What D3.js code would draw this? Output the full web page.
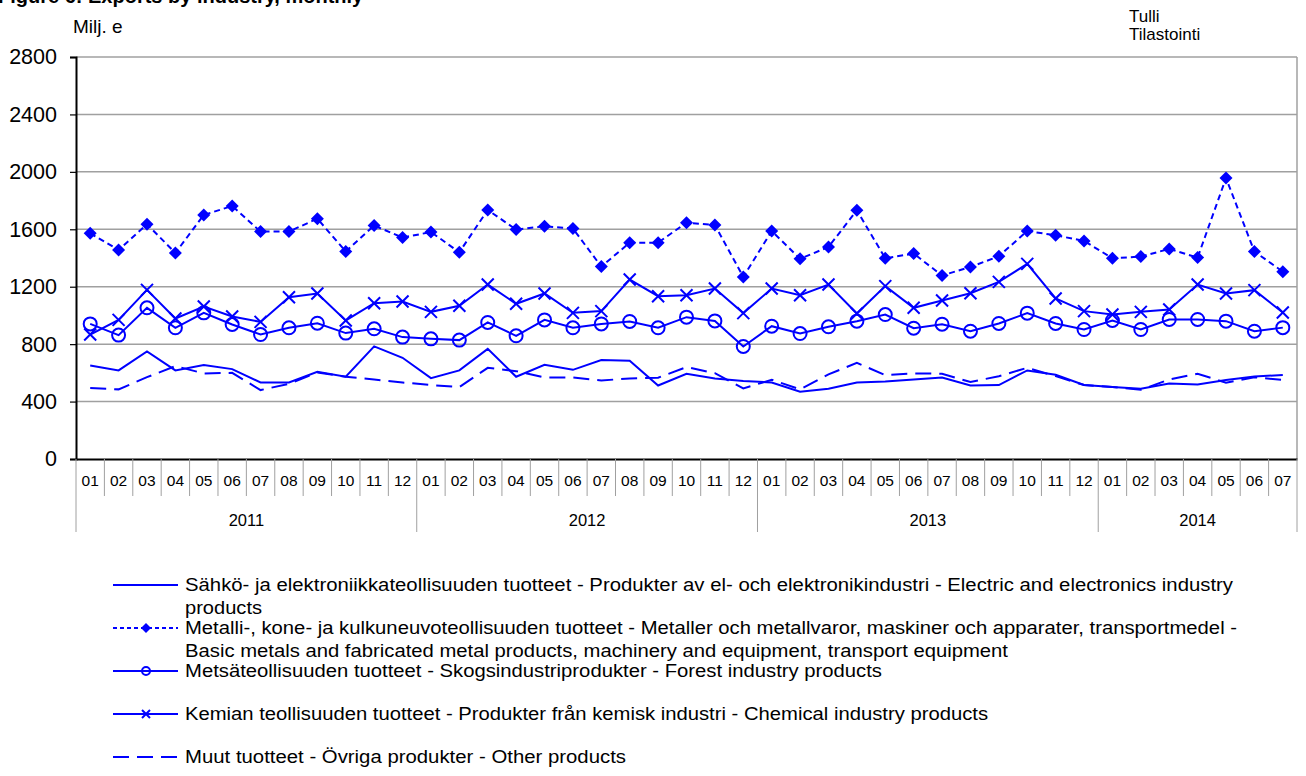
<!DOCTYPE html>
<html><head><meta charset="utf-8">
<script src="https://cdn.jsdelivr.net/npm/d3@7"></script>
<style>body{margin:0;background:#fff;} svg{display:block;font-family:Arial,"Liberation Sans",sans-serif;}</style>
</head><body><svg id="c" width="1306" height="776"></svg>
<script>
const years = ["2011","2012","2013","2014"];
const monthsPerYear = [12,12,12,7];
const monthLabels = ["01","02","03","04","05","06","07","08","09","10","11","12"];
const yTicks = [0,400,800,1200,1600,2000,2400,2800];

const electric = [652,617,749,617,654,626,533,533,608,573,784,705, 563,617,767,573,656,621,689,684,512,594,561,543, 533,468,489,533,540,554,568,512,515,617,587,515, 501,489,526,519,550,575,585];
const metals   = [1572,1456,1635,1435,1700,1762,1584,1584,1674,1445,1626,1542, 1581,1440,1735,1598,1621,1605,1340,1507,1507,1646,1630,1268, 1588,1394,1477,1732,1398,1431,1278,1338,1412,1588,1558,1519, 1398,1410,1463,1403,1957,1445,1305];
const forest   = [941,863,1053,914,1018,937,867,914,946,877,907,849, 837,828,951,858,969,914,941,958,914,988,962,784, 925,874,921,960,1006,911,939,890,944,1016,944,902, 965,902,972,972,960,890,915];
const chemical = [867,969,1178,979,1062,993,955,1127,1153,965,1085,1097, 1025,1067,1215,1081,1153,1018,1030,1250,1134,1141,1187,1016, 1187,1141,1215,1013,1204,1053,1104,1155,1234,1359,1118,1030, 1006,1025,1041,1215,1153,1176,1020];
const other    = [494,485,570,647,596,600,480,524,603,573,554,533, 515,501,635,612,568,568,547,561,566,640,598,492, 552,485,589,670,584,596,594,536,577,635,577,515, 501,482,554,594,531,570,550];

const legendLines = [
  ["Sähkö- ja elektroniikkateollisuuden tuotteet - Produkter av el- och elektronikindustri - Electric and electronics industry", "products"],
  ["Metalli-, kone- ja kulkuneuvoteollisuuden tuotteet - Metaller och metallvaror, maskiner och apparater, transportmedel -", "Basic metals and fabricated metal products, machinery and equipment, transport equipment"],
  ["Metsäteollisuuden tuotteet - Skogsindustriprodukter - Forest industry products"],
  ["Kemian teollisuuden tuotteet - Produkter från kemisk industri - Chemical industry products"],
  ["Muut tuotteet - Övriga produkter - Other products"]
];

const cats = [];
years.forEach((y,yi)=>{ for(let m=0;m<monthsPerYear[yi];m++) cats.push(y+"-"+monthLabels[m]); });

const svg = d3.select("#c");
const L=76, R=1297, T=57, B=459;
const x = d3.scaleBand().domain(cats).range([L,R]).padding(0);
const y = d3.scaleLinear().domain([0,2800]).range([B,T]);
const blue="#0000ff";

// partial title at top (cut off in the reference)
svg.append("text").attr("x",-2).attr("y",3).attr("font-weight","bold").attr("font-size",20)
  .text("Figure 6: Exports by industry, monthly");

// gridlines
svg.append("g").selectAll("line").data(yTicks.filter(d=>d>0)).join("line")
  .attr("x1",L).attr("x2",R).attr("y1",d=>y(d)).attr("y2",d=>y(d))
  .attr("stroke","#a0a0a0").attr("stroke-width",1.5);
svg.append("line").attr("x1",R).attr("x2",R).attr("y1",T).attr("y2",B).attr("stroke","#a0a0a0").attr("stroke-width",1.5);

// y axis
const ya = svg.append("g").attr("transform",`translate(${L},0)`)
  .call(d3.axisLeft(y).tickValues(yTicks).tickSize(6).tickPadding(13).tickFormat(d3.format("d")));
ya.select(".domain").attr("stroke","#000").attr("stroke-width",2);
ya.selectAll(".tick line").attr("stroke","#000").attr("stroke-width",1.2);
ya.selectAll("text").attr("font-size",21.5).attr("fill","#000").attr("font-family","Arial,'Liberation Sans',sans-serif");

// x axis (months)
const xa = svg.append("g").attr("transform",`translate(0,${B})`)
  .call(d3.axisBottom(x).tickSize(0).tickPadding(16).tickFormat(d=>d.split("-")[1]));
xa.select(".domain").attr("stroke","#000").attr("stroke-width",2);
xa.selectAll("text").attr("font-size",15.5).attr("fill","#000").attr("font-family","Arial,'Liberation Sans',sans-serif");

// month / year dividers
const divs = cats.map((c,i)=>({pos:x(c), yearStart: c.endsWith("-01")}));
divs.push({pos:R, yearStart:true});
svg.append("g").selectAll("line").data(divs).join("line")
  .attr("x1",d=>d.pos).attr("x2",d=>d.pos).attr("y1",B).attr("y2",d=>d.yearStart?532:496)
  .attr("stroke","#a0a0a0").attr("stroke-width",1);

// year labels
let idx=0;
const yearPos = years.map((yr,yi)=>{ const s=x(cats[idx]); idx+=monthsPerYear[yi]; const e = idx<cats.length? x(cats[idx]) : R; return {yr, c:(s+e)/2}; });
svg.append("g").selectAll("text").data(yearPos).join("text")
  .attr("x",d=>d.c).attr("y",526).attr("text-anchor","middle").attr("font-size",16.5).text(d=>d.yr);

// units & source
svg.append("text").attr("x",73).attr("y",33).attr("font-size",19).text("Milj. e");
svg.append("text").attr("x",1129).attr("y",22).attr("font-size",17).text("Tulli");
svg.append("text").attr("x",1129).attr("y",40).attr("font-size",17).text("Tilastointi");

const cx = i => x(cats[i]) + x.bandwidth()/2;
const line = d3.line().x((d,i)=>cx(i)).y(d=>y(d));

const series = [
  {data:electric, dash:null, marker:null},
  {data:other, dash:"16,8", marker:null},
  {data:forest, dash:null, marker:"circle"},
  {data:chemical, dash:null, marker:"x"},
  {data:metals, dash:"6,4", marker:"diamond"}
];
series.forEach(s=>{
  svg.append("path").datum(s.data).attr("d",line).attr("fill","none").attr("stroke",blue)
    .attr("stroke-width",2).attr("stroke-dasharray",s.dash);
});
function drawMarker(g, type, px, py, size){
  if(type==="circle"){
    g.append("circle").attr("cx",px).attr("cy",py).attr("r",size).attr("fill","none").attr("stroke",blue).attr("stroke-width",2);
  } else if(type==="x"){
    g.append("path").attr("d",`M${px-size},${py-size}L${px+size},${py+size}M${px-size},${py+size}L${px+size},${py-size}`)
      .attr("stroke",blue).attr("stroke-width",2);
  } else if(type==="diamond"){
    g.append("path").attr("d",`M${px},${py-size}L${px+size},${py}L${px},${py+size}L${px-size},${py}Z`).attr("fill",blue);
  }
}
series.forEach(s=>{
  if(!s.marker) return;
  const g = svg.append("g");
  const sz = s.marker==="circle"?6.5 : s.marker==="x"?6 : 6.5;
  s.data.forEach((d,i)=>drawMarker(g,s.marker,cx(i),y(d),sz));
});

// legend
const legY = [590, 633, 676, 719, 762];
const legEnds = [[1233,262],[1237,1008],[882],[988],[626]];
const legSeries = [series[0], series[4], series[2], series[3], series[1]];
const legDash = [null,"4,3",null,null,"16,8"];
legendLines.forEach((lines,i)=>{
  const g = svg.append("g");
  const ly = legY[i]-5;
  g.append("line").attr("x1",113).attr("x2",178).attr("y1",ly).attr("y2",ly).attr("stroke",blue).attr("stroke-width",2).attr("stroke-dasharray",legDash[i]);
  const mk = legSeries[i].marker;
  if(mk) drawMarker(g, mk, 146, ly, mk==="diamond"?5:4);
  lines.forEach((t,j)=>{
    g.append("text").attr("x",185).attr("y",legY[i]+j*23+1).attr("font-size",17.5)
      .attr("textLength", legEnds[i][j]-185).attr("lengthAdjust","spacingAndGlyphs").text(t);
  });
});
</script></body></html>
